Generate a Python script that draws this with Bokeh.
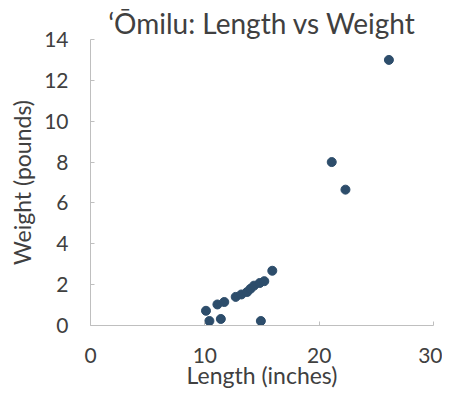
from bokeh.plotting import figure
from bokeh.models import FixedTicker, Range1d
from bokeh.embed import file_html
from bokeh.resources import INLINE

title_text = "ʻŌmilu: Length vs Weight"
x_label = "Length (inches)"
y_label = "Weight (pounds)"

length_in = [10.1, 10.4, 11.4, 14.9, 11.1, 11.7, 12.7, 13.2, 13.7, 14.0, 14.3, 14.8, 15.2, 15.9, 21.1, 22.3, 26.1]
weight_lb = [0.72, 0.22, 0.32, 0.22, 1.03, 1.15, 1.4, 1.52, 1.64, 1.8, 1.95, 2.08, 2.17, 2.68, 8.0, 6.65, 13.0]

x_ticks = [0, 10, 20, 30]
y_ticks = [0, 2, 4, 6, 8, 10, 12, 14]

FONT = "Lato"
TXT = "#404040"
AX = "#bfbfbf"

p = figure(frame_width=343, frame_height=286, output_backend="svg", toolbar_location=None,
           x_range=Range1d(0, 30), y_range=Range1d(0, 14),
           min_border_left=90, min_border_right=9, min_border_top=39, min_border_bottom=64)

p.title.text = title_text
p.title.align = "center"
p.title.text_font = FONT
p.title.text_font_size = "28px"
p.title.text_font_style = "normal"
p.title.text_color = TXT
p.title.standoff = 0

p.scatter(length_in, weight_lb, size=9, color="#2d4d6b", line_color="#2d4d6b")

p.xgrid.visible = False
p.ygrid.visible = False
p.outline_line_color = None

for ax in (p.xaxis[0], p.yaxis[0]):
    ax.axis_line_color = AX
    ax.major_tick_line_color = AX
    ax.major_tick_in = 4
    ax.major_tick_out = 0
    ax.minor_tick_line_color = None
    ax.major_label_text_font = FONT
    ax.major_label_text_font_size = "21px"
    ax.major_label_text_color = TXT
    ax.axis_label_text_font = FONT
    ax.axis_label_text_font_size = "23px"
    ax.axis_label_text_font_style = "normal"
    ax.axis_label_text_color = TXT

p.xaxis.ticker = FixedTicker(ticks=x_ticks)
p.yaxis.ticker = FixedTicker(ticks=y_ticks)
p.xaxis.axis_label = x_label
p.yaxis.axis_label = y_label
p.xaxis.major_label_standoff = 22
p.yaxis.major_label_standoff = 22
p.xaxis.axis_label_standoff = -5
p.yaxis.axis_label_standoff = 5

open("out.html", "w").write(file_html(p, INLINE))
